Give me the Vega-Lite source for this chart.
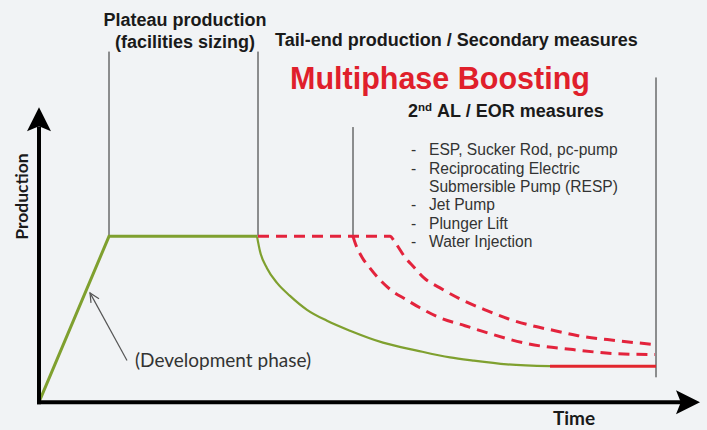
{
  "$schema": "https://vega.github.io/schema/vega-lite/v6.json",
  "width": 707,
  "height": 430,
  "autosize": {"type": "fit", "contains": "padding"},
  "padding": 0,
  "background": "#f1f3f5",
  "config": {"view": {"stroke": null}},
  "datasets": {
    "lines": [
      {"series": "v1", "t": 14, "P": 100, "o": 1},
      {"series": "v1", "t": 14, "P": 211.4, "o": 2},
      {"series": "v2", "t": 43.8, "P": 100, "o": 1},
      {"series": "v2", "t": 43.8, "P": 211.4, "o": 2},
      {"series": "v3", "t": 62.8, "P": 100, "o": 1},
      {"series": "v3", "t": 62.8, "P": 165.9, "o": 2},
      {"series": "v4", "t": 123.4, "P": 15, "o": 1},
      {"series": "v4", "t": 123.4, "P": 195.8, "o": 2},
      {"series": "greenA", "t": 0, "P": 0, "o": 1},
      {"series": "greenA", "t": 14, "P": 100, "o": 2},
      {"series": "greenA", "t": 43.6, "P": 100, "o": 3},
      {"series": "greenB", "t": 43.6, "P": 100, "o": 1},
      {"series": "greenB", "t": 44.2, "P": 91.0, "o": 2},
      {"series": "greenB", "t": 45.6, "P": 80.8, "o": 3},
      {"series": "greenB", "t": 47.6, "P": 71.9, "o": 4},
      {"series": "greenB", "t": 50.2, "P": 64.1, "o": 5},
      {"series": "greenB", "t": 53.6, "P": 55.7, "o": 6},
      {"series": "greenB", "t": 57.6, "P": 49.1, "o": 7},
      {"series": "greenB", "t": 62.2, "P": 43.1, "o": 8},
      {"series": "greenB", "t": 68.8, "P": 35.9, "o": 9},
      {"series": "greenB", "t": 75.6, "P": 31.1, "o": 10},
      {"series": "greenB", "t": 82.2, "P": 27.0, "o": 11},
      {"series": "greenB", "t": 86.8, "P": 25.1, "o": 12},
      {"series": "greenB", "t": 93.6, "P": 22.8, "o": 13},
      {"series": "greenB", "t": 102.2, "P": 21.7, "o": 14},
      {"series": "redSolid", "t": 102.2, "P": 21.7, "o": 1},
      {"series": "redSolid", "t": 123.4, "P": 21.7, "o": 2},
      {"series": "dashU", "t": 43.8, "P": 100, "o": 1},
      {"series": "dashU", "t": 70.2, "P": 100, "o": 2},
      {"series": "dashU", "t": 71.2, "P": 96.4, "o": 3},
      {"series": "dashU", "t": 73.2, "P": 87.4, "o": 4},
      {"series": "dashU", "t": 75.0, "P": 81.4, "o": 5},
      {"series": "dashU", "t": 77.0, "P": 74.9, "o": 6},
      {"series": "dashU", "t": 80.2, "P": 68.9, "o": 7},
      {"series": "dashU", "t": 84.6, "P": 61.7, "o": 8},
      {"series": "dashU", "t": 89.2, "P": 55.7, "o": 9},
      {"series": "dashU", "t": 93.8, "P": 50.3, "o": 10},
      {"series": "dashU", "t": 98.6, "P": 46.1, "o": 11},
      {"series": "dashU", "t": 103.2, "P": 43.1, "o": 12},
      {"series": "dashU", "t": 107.8, "P": 40.1, "o": 13},
      {"series": "dashU", "t": 115.6, "P": 37.1, "o": 14},
      {"series": "dashU", "t": 123.2, "P": 34.7, "o": 15},
      {"series": "dashL", "t": 62.8, "P": 100, "o": 1},
      {"series": "dashL", "t": 63.4, "P": 94.6, "o": 2},
      {"series": "dashL", "t": 64.6, "P": 87.4, "o": 3},
      {"series": "dashL", "t": 66.2, "P": 80.8, "o": 4},
      {"series": "dashL", "t": 68.2, "P": 73.7, "o": 5},
      {"series": "dashL", "t": 70.6, "P": 67.1, "o": 6},
      {"series": "dashL", "t": 73.2, "P": 62.3, "o": 7},
      {"series": "dashL", "t": 76.2, "P": 56.9, "o": 8},
      {"series": "dashL", "t": 80.2, "P": 50.9, "o": 9},
      {"series": "dashL", "t": 85.2, "P": 46.1, "o": 10},
      {"series": "dashL", "t": 90.2, "P": 41.3, "o": 11},
      {"series": "dashL", "t": 97.6, "P": 35.3, "o": 12},
      {"series": "dashL", "t": 106.8, "P": 31.7, "o": 13},
      {"series": "dashL", "t": 115.2, "P": 29.3, "o": 14},
      {"series": "dashL", "t": 123.2, "P": 28.7, "o": 15},
      {"series": "devShaft", "t": 17.6, "P": 25.1, "o": 1},
      {"series": "devShaft", "t": 10.2, "P": 65.9, "o": 2},
      {"series": "devHead", "t": 10.4, "P": 59.9, "o": 1},
      {"series": "devHead", "t": 10.2, "P": 65.9, "o": 2},
      {"series": "devHead", "t": 12.0, "P": 62.3, "o": 3},
      {"series": "axisY", "t": 0, "P": 0, "o": 1},
      {"series": "axisY", "t": 0, "P": 165, "o": 2},
      {"series": "axisX", "t": 0, "P": 0, "o": 1},
      {"series": "axisX", "t": 128, "P": 0, "o": 2}
    ],
    "heads": [
      {"name": "yhead", "t": 0, "P": 170.66},
      {"name": "xhead", "t": 129.8, "P": 0}
    ],
    "labels": [
      {"kind": "head", "label": "Plateau production", "t": 29.2, "P": 226.9},
      {"kind": "head", "label": "(facilities sizing)", "t": 29.2, "P": 213.8},
      {"kind": "headLeft", "label": "Tail-end production / Secondary measures", "t": 47.2, "P": 215.0},
      {"kind": "boost", "label": "Multiphase Boosting", "t": 50.2, "P": 188.6},
      {"kind": "sub", "label": "2", "t": 73.8, "P": 171.9},
      {"kind": "sup", "label": "nd", "t": 75.8, "P": 175.4},
      {"kind": "sub", "label": "AL / EOR measures", "t": 79.6, "P": 171.9},
      {"kind": "bullet", "label": "-", "t": 74.4, "P": 148.8},
      {"kind": "bullet", "label": "ESP, Sucker Rod, pc-pump", "t": 78, "P": 148.8},
      {"kind": "bullet", "label": "-", "t": 74.4, "P": 137.7},
      {"kind": "bullet", "label": "Reciprocating Electric", "t": 78, "P": 137.7},
      {"kind": "bullet", "label": "Submersible Pump (RESP)", "t": 78, "P": 126.6},
      {"kind": "bullet", "label": "-", "t": 74.4, "P": 115.6},
      {"kind": "bullet", "label": "Jet Pump", "t": 78, "P": 115.6},
      {"kind": "bullet", "label": "-", "t": 74.4, "P": 104.5},
      {"kind": "bullet", "label": "Plunger Lift", "t": 78, "P": 104.5},
      {"kind": "bullet", "label": "-", "t": 74.4, "P": 93.4},
      {"kind": "bullet", "label": "Water Injection", "t": 78, "P": 93.4},
      {"kind": "dev", "label": "(Development phase)", "t": 19.2, "P": 21.0},
      {"kind": "axisY", "label": "Production", "t": -3.2, "P": 124.0},
      {"kind": "axisX", "label": "Time", "t": 107, "P": -10.2}
    ]
  },
  "encoding": {
    "x": {"field": "t", "type": "quantitative", "scale": {"domain": [-7.8, 133.6], "nice": false, "zero": false}, "axis": null},
    "y": {"field": "P", "type": "quantitative", "scale": {"domain": [-14.97, 242.51], "nice": false, "zero": false}, "axis": null}
  },
  "layer": [
    {
      "data": {"name": "lines"},
      "transform": [{"filter": {"field": "series", "oneOf": ["v1", "v2", "v3", "v4"]}}],
      "mark": {"type": "line", "color": "#262626", "strokeWidth": 1},
      "encoding": {"detail": {"field": "series"}, "order": {"field": "o"}}
    },
    {
      "data": {"name": "lines"},
      "transform": [{"filter": {"field": "series", "equal": "greenA"}}],
      "mark": {"type": "line", "color": "#7fa02f", "strokeWidth": 3, "strokeJoin": "miter"},
      "encoding": {"order": {"field": "o"}}
    },
    {
      "data": {"name": "lines"},
      "transform": [{"filter": {"field": "series", "equal": "greenB"}}],
      "mark": {"type": "line", "color": "#7fa02f", "strokeWidth": 2.2, "interpolate": "monotone"},
      "encoding": {"order": {"field": "o"}}
    },
    {
      "data": {"name": "lines"},
      "transform": [{"filter": {"field": "series", "equal": "redSolid"}}],
      "mark": {"type": "line", "color": "#e2262e", "strokeWidth": 3},
      "encoding": {"order": {"field": "o"}}
    },
    {
      "data": {"name": "lines"},
      "transform": [{"filter": {"field": "series", "oneOf": ["dashU", "dashL"]}}],
      "mark": {"type": "line", "color": "#e3233c", "strokeWidth": 3, "strokeDash": [11, 7], "interpolate": "monotone"},
      "encoding": {"detail": {"field": "series"}, "order": {"field": "o"}}
    },
    {
      "data": {"name": "lines"},
      "transform": [{"filter": {"field": "series", "oneOf": ["devShaft", "devHead"]}}],
      "mark": {"type": "line", "color": "#555555", "strokeWidth": 1.2},
      "encoding": {"detail": {"field": "series"}, "order": {"field": "o"}}
    },
    {
      "data": {"name": "lines"},
      "transform": [{"filter": {"field": "series", "oneOf": ["axisY", "axisX"]}}],
      "mark": {"type": "line", "color": "#000000", "strokeWidth": 4, "strokeCap": "square"},
      "encoding": {"detail": {"field": "series"}, "order": {"field": "o"}}
    },
    {
      "data": {"name": "heads"},
      "transform": [{"filter": {"field": "name", "equal": "yhead"}}],
      "mark": {"type": "point", "shape": "M0,-1L1,1L0,0.6L-1,1Z", "size": 576, "filled": true, "color": "#000000", "opacity": 1}
    },
    {
      "data": {"name": "heads"},
      "transform": [{"filter": {"field": "name", "equal": "xhead"}}],
      "mark": {"type": "point", "shape": "M1,0L-1,1L-0.6,0L-1,-1Z", "size": 576, "filled": true, "color": "#000000", "opacity": 1}
    },
    {
      "data": {"name": "labels"},
      "transform": [{"filter": {"field": "kind", "equal": "head"}}],
      "mark": {"type": "text", "font": "Liberation Sans", "fontWeight": "bold", "fontSize": 18, "align": "center", "baseline": "alphabetic", "color": "#1a1a1a"},
      "encoding": {"text": {"field": "label"}}
    },
    {
      "data": {"name": "labels"},
      "transform": [{"filter": {"field": "kind", "equal": "headLeft"}}],
      "mark": {"type": "text", "font": "Liberation Sans", "fontWeight": "bold", "fontSize": 18, "align": "left", "baseline": "alphabetic", "color": "#1a1a1a"},
      "encoding": {"text": {"field": "label"}}
    },
    {
      "data": {"name": "labels"},
      "transform": [{"filter": {"field": "kind", "equal": "boost"}}],
      "mark": {"type": "text", "font": "Liberation Sans", "fontWeight": "bold", "fontSize": 30.5, "align": "left", "baseline": "alphabetic", "color": "#e01f2b"},
      "encoding": {"text": {"field": "label"}}
    },
    {
      "data": {"name": "labels"},
      "transform": [{"filter": {"field": "kind", "equal": "sub"}}],
      "mark": {"type": "text", "font": "Liberation Sans", "fontWeight": "bold", "fontSize": 18, "align": "left", "baseline": "alphabetic", "color": "#1a1a1a"},
      "encoding": {"text": {"field": "label"}}
    },
    {
      "data": {"name": "labels"},
      "transform": [{"filter": {"field": "kind", "equal": "sup"}}],
      "mark": {"type": "text", "font": "Liberation Sans", "fontWeight": "bold", "fontSize": 11.5, "align": "left", "baseline": "alphabetic", "color": "#1a1a1a"},
      "encoding": {"text": {"field": "label"}}
    },
    {
      "data": {"name": "labels"},
      "transform": [{"filter": {"field": "kind", "equal": "bullet"}}],
      "mark": {"type": "text", "font": "Liberation Sans", "fontSize": 15.6, "align": "left", "baseline": "alphabetic", "color": "#333333"},
      "encoding": {"text": {"field": "label"}}
    },
    {
      "data": {"name": "labels"},
      "transform": [{"filter": {"field": "kind", "equal": "dev"}}],
      "mark": {"type": "text", "font": "Lato", "fontSize": 19, "align": "left", "baseline": "alphabetic", "color": "#333333"},
      "encoding": {"text": {"field": "label"}}
    },
    {
      "data": {"name": "labels"},
      "transform": [{"filter": {"field": "kind", "equal": "axisY"}}],
      "mark": {"type": "text", "font": "Lato", "fontWeight": "bold", "fontSize": 17.5, "align": "center", "baseline": "middle", "angle": 270, "color": "#1a1a1a"},
      "encoding": {"text": {"field": "label"}}
    },
    {
      "data": {"name": "labels"},
      "transform": [{"filter": {"field": "kind", "equal": "axisX"}}],
      "mark": {"type": "text", "font": "Lato", "fontWeight": "bold", "fontSize": 19, "align": "center", "baseline": "middle", "color": "#1a1a1a"},
      "encoding": {"text": {"field": "label"}}
    }
  ]
}
